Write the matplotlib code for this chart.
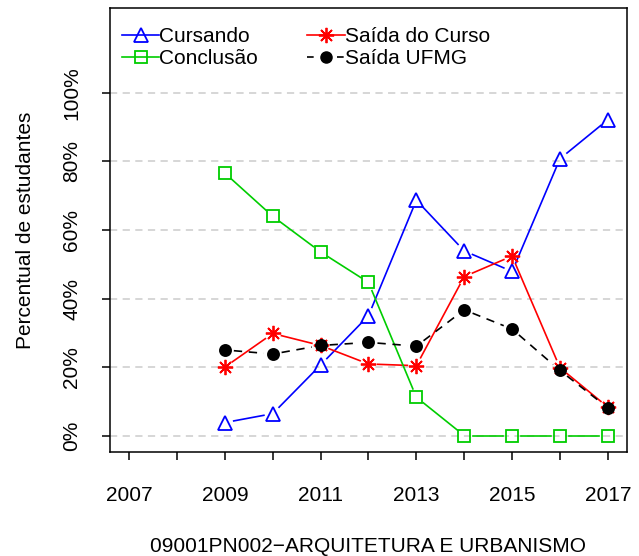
import numpy as np
import matplotlib.pyplot as plt
from matplotlib.lines import Line2D

plt.rcParams['font.family'] = ['Liberation Sans', 'DejaVu Sans']

anos = [2009, 2010, 2011, 2012, 2013, 2014, 2015, 2016, 2017]
cursando = [3.8, 6.4, 20.6, 35.0, 68.7, 53.9, 47.9, 80.8, 92.2]
saida_curso = [20.0, 29.8, 26.3, 20.9, 20.4, 46.4, 52.4, 19.8, 8.3]
conclusao = [76.6, 64.0, 53.6, 44.7, 11.2, 0.0, 0.0, 0.0, 0.0]
saida_ufmg = [25.0, 23.8, 26.3, 27.2, 26.1, 36.7, 31.1, 19.0, 8.1]

x_ticks = list(range(2007, 2018))
x_labels = [str(a) if a % 2 == 1 else '' for a in x_ticks]
y_ticks = [0, 20, 40, 60, 80, 100]
y_labels = ['0%', '20%', '40%', '60%', '80%', '100%']

fs = 15

fig = plt.figure(figsize=(6.39, 5.56), dpi=100)
ax = fig.add_axes([0.1721, 0.187, 0.8091, 0.7986])
ax.set_xlim(2006.6, 2017.4)
ax.set_ylim(-4.8, 124.8)

for v in y_ticks:
    ax.axhline(v, color='#d3d3d3', lw=1.3, ls=(0, (4, 3)), zorder=0)


def serie_b(x, y, cor, marcador, ms, ls='-', gap=9, face='none'):
    # linhas com folga em volta dos pontos (estilo type="b")
    pts = ax.transData.transform(np.column_stack([x, y]))
    inv = ax.transData.inverted()
    for p0, p1 in zip(pts[:-1], pts[1:]):
        d = p1 - p0
        n = np.hypot(*d)
        if n <= 2 * gap:
            continue
        u = d / n
        a = inv.transform(p0 + u * gap)
        b = inv.transform(p1 - u * gap)
        ax.plot([a[0], b[0]], [a[1], b[1]], color=cor, lw=1.2, ls=ls, zorder=2)
    ax.plot(x, y, ls='none', marker=marcador, ms=ms, mec=cor, mfc=face,
            mew=1.3, zorder=3)


serie_b(anos, cursando, '#0000ff', '^', 10)
serie_b(anos, saida_curso, '#ff0000', (8, 2, 0), 11)
serie_b(anos, conclusao, '#00cd00', 's', 8)
serie_b(anos, saida_ufmg, 'black', 'o', 8, ls=(0, (5, 4)), face='black')

handles = [
    Line2D([], [], color='#0000ff', lw=1.2, marker='^', ms=10, mfc='none', mew=1.3),
    Line2D([], [], color='#00cd00', lw=1.2, marker='s', ms=8, mfc='none', mew=1.3),
    Line2D([], [], color='#ff0000', lw=1.2, marker=(8, 2, 0), ms=11, mew=1.3),
    Line2D([], [], color='black', lw=1.2, ls=(0, (4, 5)), marker='o', ms=8, mfc='black'),
]
labels = ['Cursando', 'Conclusão', 'Saída do Curso', 'Saída UFMG']
ax.legend(handles, labels, ncol=2, loc='upper left', bbox_to_anchor=(-0.005, 0.99),
          frameon=False, fontsize=fs, handlelength=1.8, handletextpad=0.0,
          columnspacing=2.35, labelspacing=0.15, borderaxespad=0.3)

ax.set_xticks(x_ticks)
ax.set_xticklabels(x_labels)
ax.set_yticks(y_ticks)
ax.set_yticklabels(y_labels, rotation=90, va='center')
ax.tick_params(axis='both', direction='out', length=5.5, width=1.1, labelsize=fs)
ax.tick_params(axis='x', pad=19)
ax.tick_params(axis='y', pad=15)
for s in ax.spines.values():
    s.set_linewidth(1.1)

ax.set_ylabel('Percentual de estudantes', fontsize=fs, labelpad=20)
ax.set_xlabel('09001PN002\u2212ARQUITETURA E URBANISMO', fontsize=fs, labelpad=23)

fig.savefig('out.png', dpi=100)
